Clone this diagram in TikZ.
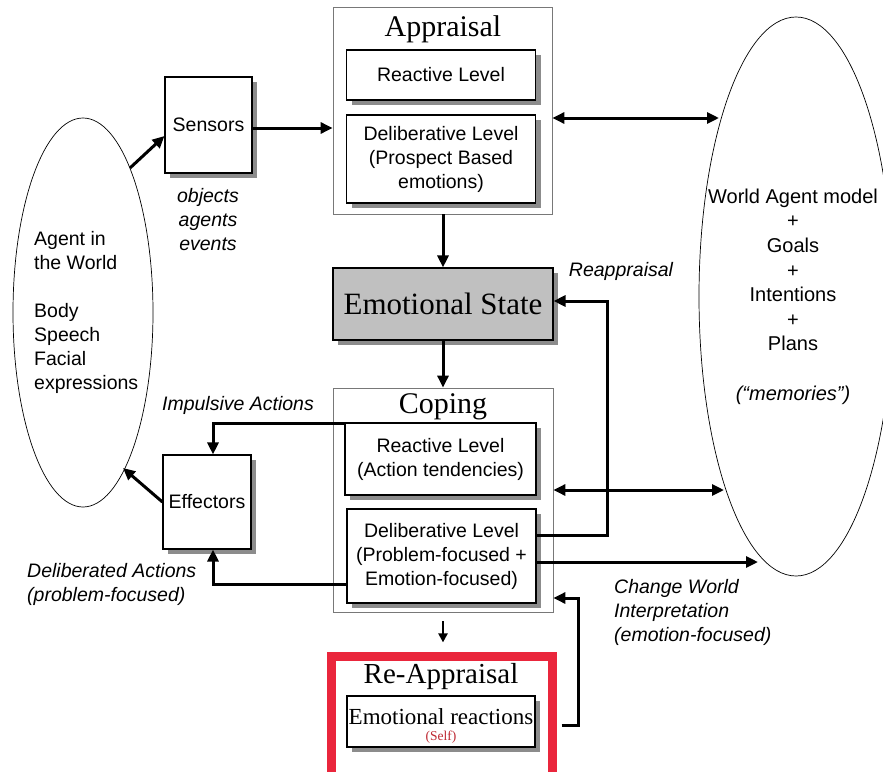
\documentclass[tikz,border=0pt]{standalone}
\usepackage{fontspec}
\setmainfont{Liberation Sans}
\newfontfamily\tnr{Liberation Serif}
\usetikzlibrary{arrows.meta,shapes.geometric,shadows}
\definecolor{boxshadow}{RGB}{140,140,140}
\definecolor{stategray}{RGB}{192,192,192}
\definecolor{framegray}{RGB}{120,120,120}
\definecolor{alertred}{RGB}{234,38,60}
\definecolor{selfred}{RGB}{190,40,50}
\begin{document}
\begin{tikzpicture}[x=1pt,y=-1pt,
  sans/.style={font=\fontsize{19.5}{24}\selectfont},
  lbl/.style={sans, align=center, inner sep=0},
  itl/.style={font=\fontsize{19.5}{24}\selectfont\itshape, inner sep=0},
  frame/.style={draw=framegray, line width=0.8pt, fill=white, inner sep=0},
  levelbox/.style={draw=black, line width=1.1pt, fill=white, inner sep=0,
    align=center, sans,
    drop shadow={shadow xshift=5pt, shadow yshift=-5pt, fill=boxshadow, opacity=1}},
  title/.style={font=\tnr\fontsize{30}{32}\selectfont, inner sep=0},
  arr/.style={line width=3pt, -{Triangle[length=12pt,width=11pt]}},
  darr/.style={line width=3pt, {Triangle[length=12pt,width=11pt]}-{Triangle[length=12pt,width=11pt]}},
  smallarr/.style={line width=2.6pt, -{Triangle[length=9pt,width=9pt]}},
  oval/.style={ellipse, draw=black, line width=0.7pt, inner sep=0}
]
\useasboundingbox (0,0) rectangle (883,771);

% ---- outer frames
\node[frame, minimum width=219pt, minimum height=207pt] (ap) at (442.5,110.5) {};
\node[frame, minimum width=220pt, minimum height=224pt] (cp) at (443,500) {};
\node[draw=alertred, line width=9pt, fill=white, minimum width=221pt,
      minimum height=119.5pt, inner sep=0] (rb) at (442,716.25) {};

% ---- titles
\node[title] (apT) at (443,29) {Appraisal};
\node[title] (cpT) at (443,407) {Coping};
\node[title, font=\tnr\fontsize{29}{31}\selectfont] (rbT) at (441,677) {Re-Appraisal};

% ---- appraisal levels
\node[levelbox, minimum width=189pt, minimum height=50pt] (ar) at (441,75) {Reactive Level};
\node[levelbox, minimum width=189pt, minimum height=88pt] (ad) at (441,159)
  {Deliberative Level\\(Prospect Based\\emotions)};

% ---- emotional state
\node[levelbox, fill=stategray, font=\tnr\fontsize{31}{33}\selectfont,
      minimum width=220pt, minimum height=72pt] (es) at (443,304) {Emotional State};

% ---- coping levels
\node[levelbox, minimum width=191pt, minimum height=72pt] (cr) at (440.5,459)
  {Reactive Level\\(Action tendencies)};
\node[levelbox, minimum width=189pt, minimum height=94pt] (cd) at (441.5,556)
  {Deliberative Level\\(Problem-focused +\\Emotion-focused)};

% ---- re-appraisal content
\node[levelbox, minimum width=188pt, minimum height=51pt] (er) at (441,721.5) {};
\node[font=\tnr\fontsize{23}{25}\selectfont, inner sep=0] (erT) at (441,717) {Emotional reactions};
\node[font=\tnr\fontsize{13.5}{15}\selectfont, text=selfred, inner sep=0] (erS) at (441,737) {(Self)};

% ---- sensors and effectors
\node[levelbox, minimum width=87pt, minimum height=96pt] (sen) at (208.5,125) {Sensors};
\node[levelbox, minimum width=88pt, minimum height=94pt] (eff) at (207,502) {Effectors};

% ---- agent in the world
\node[oval, minimum width=140pt, minimum height=389pt] (aw) at (83,312.5) {};
\node[sans, align=left, inner sep=0, anchor=west] (awT) at (34,312.5)
  {Agent in\\the World\\[24pt]Body\\Speech\\Facial\\expressions};

% ---- world agent model
\node[oval, minimum width=194pt, minimum height=559pt] (wm) at (796,296.5) {};
\node[font=\fontsize{20}{24.6}\selectfont, align=center, inner sep=0] (wmT) at (793,296.5)
  {World Agent model\\+\\Goals\\+\\Intentions\\+\\Plans\\[24.6pt]\textit{(``memories'')}};

% ---- italic labels
\node[itl, align=center] (senL) at (208,220) {objects\\agents\\events};
\node[itl] (reL) at (621,271) {Reappraisal};
\node[itl] (imL) at (238,405) {Impulsive Actions};
\node[itl, align=left, anchor=west] (deL) at (27,584) {Deliberated Actions\\(problem-focused)};
\node[itl, align=left, anchor=west] (cwL) at (614,612) {Change World\\Interpretation\\(emotion-focused)};

% ---- connector end points
\coordinate (awOut) at (130,168);
\coordinate (senIn) at ([yshift=-11pt]sen.west);
\coordinate (senOut) at ([yshift=-3pt]sen.east);
\coordinate (awIn) at (123,468);
\coordinate (apR) at ([yshift=-7.5pt]ap.east);
\coordinate (wmA) at (719,118);
\coordinate (cpR) at ([yshift=10pt]cp.east);
\coordinate (wmB) at (724,490);
\coordinate (wmC) at (758,562);
\coordinate (cdUp) at ([yshift=21pt]cd.east);
\coordinate (cdDn) at ([yshift=-6pt]cd.east);
\coordinate (cdLow) at ([yshift=-28pt]cd.west);
\coordinate (crTop) at ([yshift=-1.5pt]cr.north west);
\coordinate (esR) at ([yshift=3pt]es.east);
\coordinate (raTurn) at (607,0);
\coordinate (effTop) at ([xshift=6pt]eff.north);
\coordinate (effBot) at ([xshift=6pt]eff.south);
\coordinate (rbR) at ([xshift=4.5pt,yshift=-8.75pt]rb.east);
\coordinate (fbTurn) at (578,0);
\coordinate (cpIn) at ([yshift=-98pt]cp.east);
\coordinate (smA) at ([yshift=-9pt]cp.south);
\coordinate (smB) at ([yshift=-30pt]cp.south);

% ---- connectors
\draw[arr] (awOut) -- (senIn);
\draw[arr] (senOut) -- (senOut -| ap.west);
\draw[arr] (eff.west) -- (awIn);
\draw[darr] (apR) -- (wmA);
\draw[arr] (ap.south -| es.north) -- (es.north);
\draw[arr] (es.south) -- (cp.north);
\draw[darr] (cpR) -- (wmB);
\draw[arr] (cdDn) -- (wmC);
\draw[arr] (cdUp) -- (cdUp -| raTurn) |- (esR);
\draw[arr] (crTop) -| (effTop);
\draw[arr] (cdLow) -| (effBot);
\draw[arr] (rbR) -- (rbR -| fbTurn) |- (cpIn);
\draw[smallarr] (smA) -- (smB);
\end{tikzpicture}
\end{document}
